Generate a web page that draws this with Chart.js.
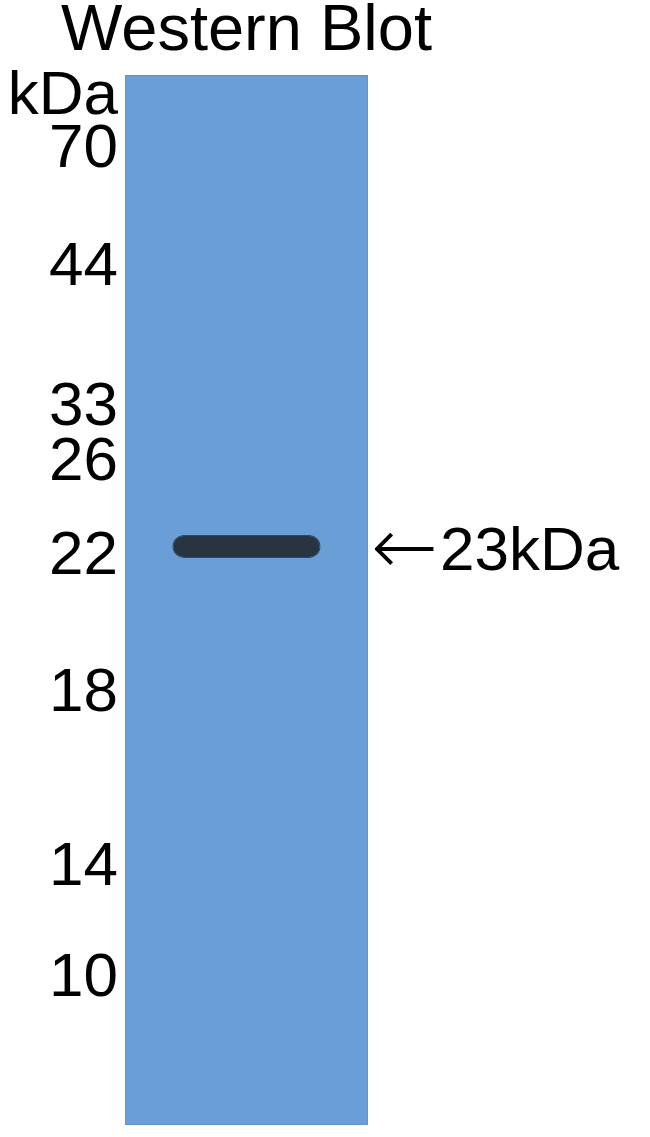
<!DOCTYPE html>
<html>
<head>
  <meta charset="UTF-8">
  <title>Western Blot</title>
  <script src="https://cdn.jsdelivr.net/npm/chart.js"></script>
  <style>
    body { margin: 0; background: white; }
    canvas { display: block; }
  </style>
</head>
<body>
  <canvas id="blot" width="650" height="1137"></canvas>
  <script>
    // single lane, named after the blot
    const lanes = ["Western Blot"];
    // marker ladder: kDa and migration (% of lane length from the top)
    const markerKDa = ["kDa", "70", "44", "33", "26", "22", "18", "14", "10"];
    const markerPos = [2.1, 7.14, 18.38, 31.71, 36.95, 45.9, 58.95, 75.52, 86.1];
    // detected band
    const bandLabel = "23kDa";
    const bandFrom = 43.8;
    const bandTo = 46.0;
    const bandLabelPos = 45.5;

    const font = "'Liberation Sans', Arial, sans-serif";

    // side axes keep their fixed width and no extra vertical padding
    const sideAxis = (pos, weight, width, ticks, label, opts) => ({
      position: pos,
      weight: weight,
      reverse: true,
      min: 0,
      max: 100,
      grid: { display: false, drawTicks: false },
      border: { display: false },
      afterFit: s => { s.width = width; s.paddingTop = 0; s.paddingBottom = 0; },
      afterBuildTicks: s => { s.ticks = ticks.map(v => ({ value: v })); },
      ticks: Object.assign({
        autoSkip: false,
        color: "#000",
        font: { family: font, size: 62 },
        callback: (v, i) => label[i]
      }, opts)
    });

    new Chart(document.getElementById("blot").getContext("2d"), {
      type: "bar",
      data: {
        labels: lanes,
        datasets: [
          {
            label: "Band",
            data: [[bandFrom, bandTo]],
            backgroundColor: "#283441",
            borderColor: "#34475a",
            borderWidth: 1,
            borderSkipped: false,
            borderRadius: 12,
            barPercentage: 0.61,
            categoryPercentage: 1,
            grouped: false
          },
          {
            label: "Lane",
            data: [[0, 100]],
            backgroundColor: "#6a9ed6",
            borderColor: "#5e8fc6",
            borderWidth: 1,
            borderSkipped: false,
            barPercentage: 1,
            categoryPercentage: 1,
            grouped: false
          }
        ]
      },
      options: {
        responsive: false,
        animation: false,
        layout: { padding: { left: 0, right: 0, top: 0, bottom: 12 } },
        plugins: {
          legend: { display: false },
          tooltip: { enabled: false }
        },
        scales: {
          x: {
            position: "top",
            grid: { display: false, drawTicks: false },
            border: { display: false },
            afterFit: s => { s.height = 75; s.paddingLeft = 0; s.paddingRight = 0; },
            ticks: {
              maxRotation: 0,
              minRotation: 0,
              autoSkip: false,
              padding: 10,
              color: "#000",
              font: { family: font, size: 65, lineHeight: 1 }
            }
          },
          y: sideAxis("left", 0, 125, markerPos, markerKDa, { padding: 7 }),
          yArrow: sideAxis("right", 0, 70, [bandLabelPos], ["\u2190"], {
            padding: 3,
            font: { family: "'DejaVu Sans', sans-serif", size: 80, weight: "200" }
          }),
          yBand: sideAxis("right", 1, 212, [bandLabelPos], [bandLabel], { padding: 2 })
        }
      }
    });
  </script>
</body>
</html>
